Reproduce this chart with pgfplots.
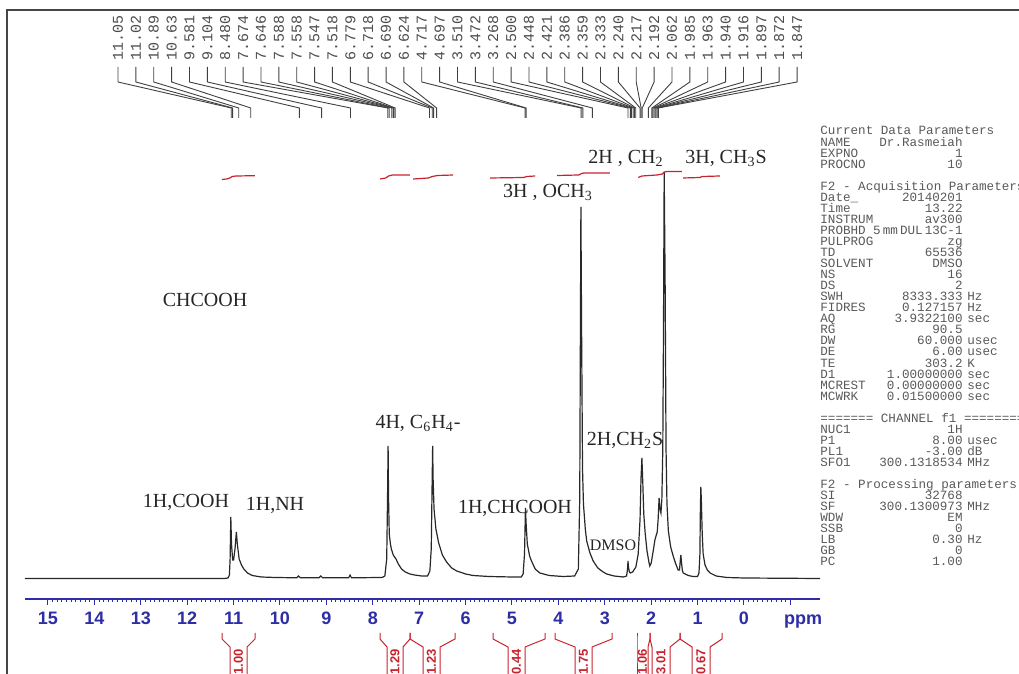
\documentclass[border=0pt]{standalone}
\usepackage{fontspec}
\setmainfont{Liberation Serif}
\setsansfont{Liberation Sans}
\setmonofont{Liberation Mono}
\usepackage{pgfplots}
\pgfplotsset{compat=1.18}
\definecolor{tickblue}{RGB}{45,45,165}
\definecolor{intred}{RGB}{200,35,45}
\definecolor{spec}{RGB}{40,40,40}
\definecolor{framec}{RGB}{70,70,70}
\newcommand{\intbr}[5]{%
  \draw[intred,line width=0.5pt] (#1,633)--(#1,639)--(#2,647)--(#2,680);
  \draw[intred,line width=0.5pt] (#4,633)--(#4,639)--(#3,647)--(#3,680);
  \node[rotate=90,text=intred,font=\sffamily\bfseries\fontsize{6.5}{6.5}\selectfont,inner sep=0pt] at ({(#2+#3)/2},662) {#5};}
\newcommand{\pl}[4]{%
  \node[anchor=base west] at (820,{135+11.05*#1}) {#2};
  \node[anchor=base east] at (963,{135+11.05*#1}) {#3};
  \node[anchor=base west] at (967,{135+11.05*#1}) {#4};}
\newcommand{\pt}[2]{\node[anchor=base west] at (820,{135+11.05*#1}) {#2};}
\begin{document}
\begin{tikzpicture}
\begin{axis}[
  x=23.2pt, y=0.5pt, x dir=reverse,
  xmin=-1.638, xmax=15.496, ymin=-20, ymax=569,
  enlargelimits=false, clip=false,
  axis x line*=bottom, axis y line=none,
  x axis line style={-, tickblue, line width=0.9pt},
  xtick={-1,0,1,2,3,4,5,6,7,8,9,10,11,12,13,14,15},
  xticklabels={{},0,1,2,3,4,5,6,7,8,9,10,11,12,13,14,15},
  minor x tick num=9,
  tick align=outside,
  major tick length=3pt, minor tick length=1.5pt,
  every tick/.style={tickblue, line width=0.5pt},
  xticklabel style={text=tickblue, font=\sffamily\bfseries\fontsize{9}{9}\selectfont},
]
\addplot[spec, line width=0.6pt] coordinates {
(15.50,0.5)(13.0,0.5)(11.20,0.5)(11.12,1)(11.09,4)(11.075,20)(11.06,62)(11.045,35)
(11.02,19)(11.00,19)(10.97,30)(10.94,47)(10.92,35)(10.88,20)(10.83,14)(10.78,10)
(10.70,6)(10.60,3.5)(10.40,2)(10.10,1.5)(9.64,1.2)(9.60,3)(9.56,1.2)(9.16,1.2)
(9.12,3)(9.08,1.2)(8.52,1.2)(8.49,4)(8.46,1.2)(7.80,1.5)(7.74,3)(7.70,20)(7.68,90)
(7.67,133)(7.66,80)(7.645,45)(7.62,35)(7.60,30)(7.56,24)(7.50,20)(7.45,15)(7.38,10)
(7.30,7)(7.20,5)(7.10,4)(6.95,3)(6.82,3)(6.77,8)(6.74,30)(6.72,100)(6.71,133)
(6.70,100)(6.68,70)(6.64,50)(6.58,36)(6.50,24)(6.41,17)(6.30,11)(6.19,8)(6.00,5)
(5.84,3.5)(5.50,2.5)(5.00,2)(4.80,2)(4.76,5)(4.73,25)(4.71,71)(4.695,55)(4.67,35)
(4.62,23)(4.58,18)(4.50,10)(4.40,6)(4.20,3.5)(3.90,2.5)(3.65,3)(3.57,10)(3.54,80)
(3.515,372)(3.50,250)(3.48,110)(3.46,75)(3.42,50)(3.39,38)(3.32,26)(3.25,18)
(3.15,11)(3.05,7.5)(2.96,5)(2.80,3)(2.60,2)(2.53,3)(2.51,10)(2.50,18)(2.49,12)
(2.47,7)(2.45,6)(2.40,7)(2.33,12)(2.28,25)(2.24,60)(2.22,100)(2.20,121)(2.18,95)
(2.16,65)(2.13,46)(2.09,28)(2.05,17)(2.03,13)(2.00,16)(1.96,27)(1.92,39)(1.89,44)
(1.87,47)(1.85,60)(1.83,81)(1.81,70)(1.79,66)(1.77,80)(1.75,130)(1.735,250)
(1.72,407)(1.70,300)(1.68,130)(1.66,75)(1.63,48)(1.58,32)(1.52,22)(1.47,15)
(1.42,9)(1.39,9)(1.37,20)(1.36,24)(1.35,18)(1.33,9)(1.31,6)(1.20,3.5)(1.10,2.5)
(1.00,2.5)(0.97,6)(0.95,25)(0.94,70)(0.93,92)(0.92,80)(0.90,45)(0.88,25)(0.84,14)
(0.79,9)(0.73,6)(0.60,3)(0.37,1.5)(0.00,1)(-1.64,0.5)
};
% integral traces
\addplot[intred, line width=0.6pt] coordinates {(11.25,399.5)(11.15,400)(11.08,401)(11.03,402.5)(10.95,403)(10.54,403.3)};
\addplot[intred, line width=0.6pt] coordinates {(7.84,400)(7.72,401)(7.66,403)(7.58,404)(7.20,404)};
\addplot[intred, line width=0.6pt] coordinates {(7.13,400)(6.80,401)(6.72,402.5)(6.60,403.5)(6.27,404)};
\addplot[intred, line width=0.6pt] coordinates {(5.47,401)(4.75,401.5)(4.68,402.5)(4.50,403)};
\addplot[intred, line width=0.6pt] coordinates {(4.03,403.5)(3.56,404)(3.50,405.5)(3.45,406)(2.89,406)};
\addplot[intred, line width=0.6pt] coordinates {(2.28,401.5)(2.20,403)(1.875,404)};
\addplot[intred, line width=0.6pt] coordinates {(1.875,404)(1.76,405)(1.72,407)(1.65,407.5)(1.34,407.5)};
\addplot[intred, line width=0.6pt] coordinates {(1.31,401)(0.95,401.5)(0.90,402.5)(0.52,403)};
\coordinate (O) at (axis cs:16.0345,579);
\end{axis}
\begin{scope}[shift={(O)}, x=0.5pt, y=-0.5pt]
  % frame
  \draw[framec, line width=0.8pt] (7,680)--(7,10)--(1030,10);
  % peak list
  \foreach \v [count=\i from 0] in {11.05,11.02,10.89,10.63,9.581,9.104,8.480,7.674,7.646,7.588,7.558,7.547,7.518,6.779,6.718,6.690,6.624,4.717,4.697,3.510,3.472,3.268,2.500,2.448,2.421,2.386,2.359,2.333,2.240,2.217,2.192,2.062,1.985,1.963,1.940,1.916,1.897,1.872,1.847} {
    \pgfmathsetmacro\lx{118+17.87*\i}
    \pgfmathsetmacro\tx{744-46.4*\v}
    \node[rotate=90, anchor=east, inner sep=0pt, text=black!70, font=\ttfamily\fontsize{7.5}{7.5}\selectfont] at (\lx,15) {\v};
    \draw[black!75, line width=0.45pt] (\lx,67)--(\lx,82)--(\tx,108)--(\tx,118);
  }
  % assignments
  \begin{scope}[every node/.style={font=\fontsize{10}{10}\selectfont, text=black!85, inner sep=0pt}]
  \node at (626,158) {2H , CH\textsubscript{2}};
  \node at (726,158) {3H, CH\textsubscript{3}S};
  \node at (548,192) {3H , OCH\textsubscript{3}};
  \node at (205,300) {CHCOOH};
  \node at (418,423) {4H, C\textsubscript{6}H\textsubscript{4}-};
  \node at (625,440) {2H,CH\textsubscript{2}S};
  \node at (186,502) {1H,COOH};
  \node at (275,505) {1H,NH};
  \node at (515,508) {1H,CHCOOH};
  \node[font=\fontsize{8}{8}\selectfont] at (613,545) {DMSO};
  \end{scope}
  % ppm label
  \node[anchor=base, text=tickblue, font=\sffamily\bfseries\fontsize{9}{9}\selectfont] at (803,625) {ppm};
  % integral brackets
  \intbr{222}{230}{247}{255}{1.00}
  \intbr{380}{387}{403}{410}{1.29}
  \intbr{410}{423}{440}{455}{1.23}
  \intbr{493}{508}{525}{545}{0.44}
  \intbr{555}{575}{592}{612}{1.75}
  \intbr{637}{637}{648}{650}{1.06}
  \intbr{650}{652}{670}{680}{3.01}
  \intbr{680}{692}{710}{722}{0.67}
  % parameters
  \begin{scope}[every node/.style={inner sep=0pt, text=black!65, font=\ttfamily\fontsize{6.3}{6.3}\selectfont}]
  \pt{0}{Current Data Parameters}
  \pl{1}{NAME}{Dr.Rasmeiah}{}
  \pl{2}{EXPNO}{1}{}
  \pl{3}{PROCNO}{10}{}
  \pt{5}{F2 - Acquisition Parameters}
  \pl{6}{Date\_}{20140201}{}
  \pl{7}{Time}{13.22}{}
  \pl{8}{INSTRUM}{av300}{}
  \pl{9}{PROBHD}{5\,mm\,DUL\,13C-1}{}
  \pl{10}{PULPROG}{zg}{}
  \pl{11}{TD}{65536}{}
  \pl{12}{SOLVENT}{DMSO}{}
  \pl{13}{NS}{16}{}
  \pl{14}{DS}{2}{}
  \pl{15}{SWH}{8333.333}{Hz}
  \pl{16}{FIDRES}{0.127157}{Hz}
  \pl{17}{AQ}{3.9322100}{sec}
  \pl{18}{RG}{90.5}{}
  \pl{19}{DW}{60.000}{usec}
  \pl{20}{DE}{6.00}{usec}
  \pl{21}{TE}{303.2}{K}
  \pl{22}{D1}{1.00000000}{sec}
  \pl{23}{MCREST}{0.00000000}{sec}
  \pl{24}{MCWRK}{0.01500000}{sec}
  \pt{26}{======= CHANNEL f1 ========}
  \pl{27}{NUC1}{1H}{}
  \pl{28}{P1}{8.00}{usec}
  \pl{29}{PL1}{-3.00}{dB}
  \pl{30}{SFO1}{300.1318534}{MHz}
  \pt{32}{F2 - Processing parameters}
  \pl{33}{SI}{32768}{}
  \pl{34}{SF}{300.1300973}{MHz}
  \pl{35}{WDW}{EM}{}
  \pl{36}{SSB}{0}{}
  \pl{37}{LB}{0.30}{Hz}
  \pl{38}{GB}{0}{}
  \pl{39}{PC}{1.00}{}
  \end{scope}
\end{scope}
\pgfresetboundingbox
\path[use as bounding box] (O) rectangle ++(509.5pt,-337pt);
\end{tikzpicture}
\end{document}
